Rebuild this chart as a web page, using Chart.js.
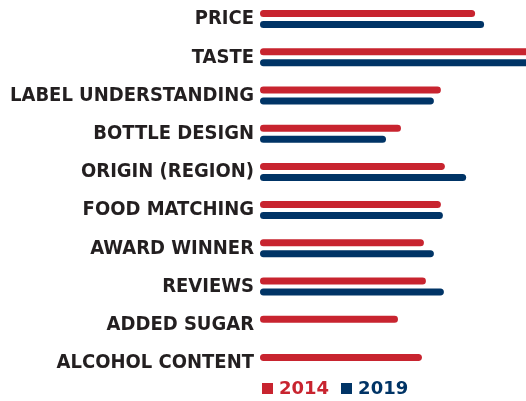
<!DOCTYPE html>
<html lang="en">
<head>
    <meta charset="UTF-8">
    <title>Wine purchase factors</title>
    <script src="https://cdn.jsdelivr.net/npm/chart.js"></script>
    <style>
        body {
            margin: 0;
            background: #fff;
            font-family: "DejaVu Sans", sans-serif;
        }
        .wrap {
            position: relative;
            width: 526px;
            height: 401px;
            overflow: hidden;
        }
        #legend {
            position: absolute;
            left: 262px;
            top: 378px;
            display: flex;
            gap: 12px;
            font-weight: bold;
            font-size: 18px;
            line-height: 20px;
        }
        #legend span.item { display: flex; align-items: center; }
        #legend span.box {
            display: inline-block;
            width: 11px;
            height: 11px;
            margin-right: 6px;
        }
    </style>
</head>
<body>
    <div class="wrap">
        <canvas id="factorsChart" width="526" height="382"></canvas>
        <div id="legend"></div>
    </div>

    <script>
        const categories = ['PRICE', 'TASTE', 'LABEL UNDERSTANDING', 'BOTTLE DESIGN', 'ORIGIN (REGION)',
            'FOOD MATCHING', 'AWARD WINNER', 'REVIEWS', 'ADDED SUGAR', 'ALCOHOL CONTENT'];
        const values2014 = [64.7, 84, 54.4, 42.4, 55.6, 54.4, 49.3, 49.9, 41.5, 48.7];
        const values2019 = [67.4, 84, 52.3, 37.9, 62.0, 55.0, 52.3, 55.3, null, null];
        const seriesNames = ['2014', '2019'];

        const RED = '#c8242f';
        const BLUE = '#003466';

        const ctx = document.getElementById('factorsChart').getContext('2d');
        const chart = new Chart(ctx, {
            type: 'bar',
            data: {
                labels: categories,
                datasets: [
                    { label: seriesNames[0], data: values2014, backgroundColor: RED },
                    { label: seriesNames[1], data: values2019, backgroundColor: BLUE }
                ]
            },
            options: {
                indexAxis: 'y',
                responsive: false,
                animation: false,
                layout: { padding: 0 },
                datasets: {
                    bar: {
                        categoryPercentage: 0.576,
                        barPercentage: 0.636,
                        borderRadius: 4,
                        borderSkipped: false
                    }
                },
                plugins: {
                    legend: { display: false },
                    tooltip: { enabled: false }
                },
                scales: {
                    x: { display: false, min: 0, max: 80 },
                    y: {
                        grid: { display: false, drawTicks: false },
                        border: { display: false },
                        ticks: {
                            autoSkip: false,
                            padding: 6,
                            color: '#231f20',
                            font: { family: '"DejaVu Sans Condensed", "DejaVu Sans", sans-serif', size: 20, weight: 'bold' }
                        },
                        afterFit: (scale) => {
                            scale.width = 260;
                            // let the bands use the full height
                            scale.paddingTop = 0;
                            scale.paddingBottom = 0;
                        }
                    }
                }
            }
        });

        // html legend built from the chart's datasets
        const legendEl = document.getElementById('legend');
        chart.data.datasets.forEach(ds => {
            const item = document.createElement('span');
            item.className = 'item';
            item.style.color = ds.backgroundColor;
            const box = document.createElement('span');
            box.className = 'box';
            box.style.background = ds.backgroundColor;
            item.appendChild(box);
            item.appendChild(document.createTextNode(ds.label));
            legendEl.appendChild(item);
        });
    </script>
</body>
</html>
